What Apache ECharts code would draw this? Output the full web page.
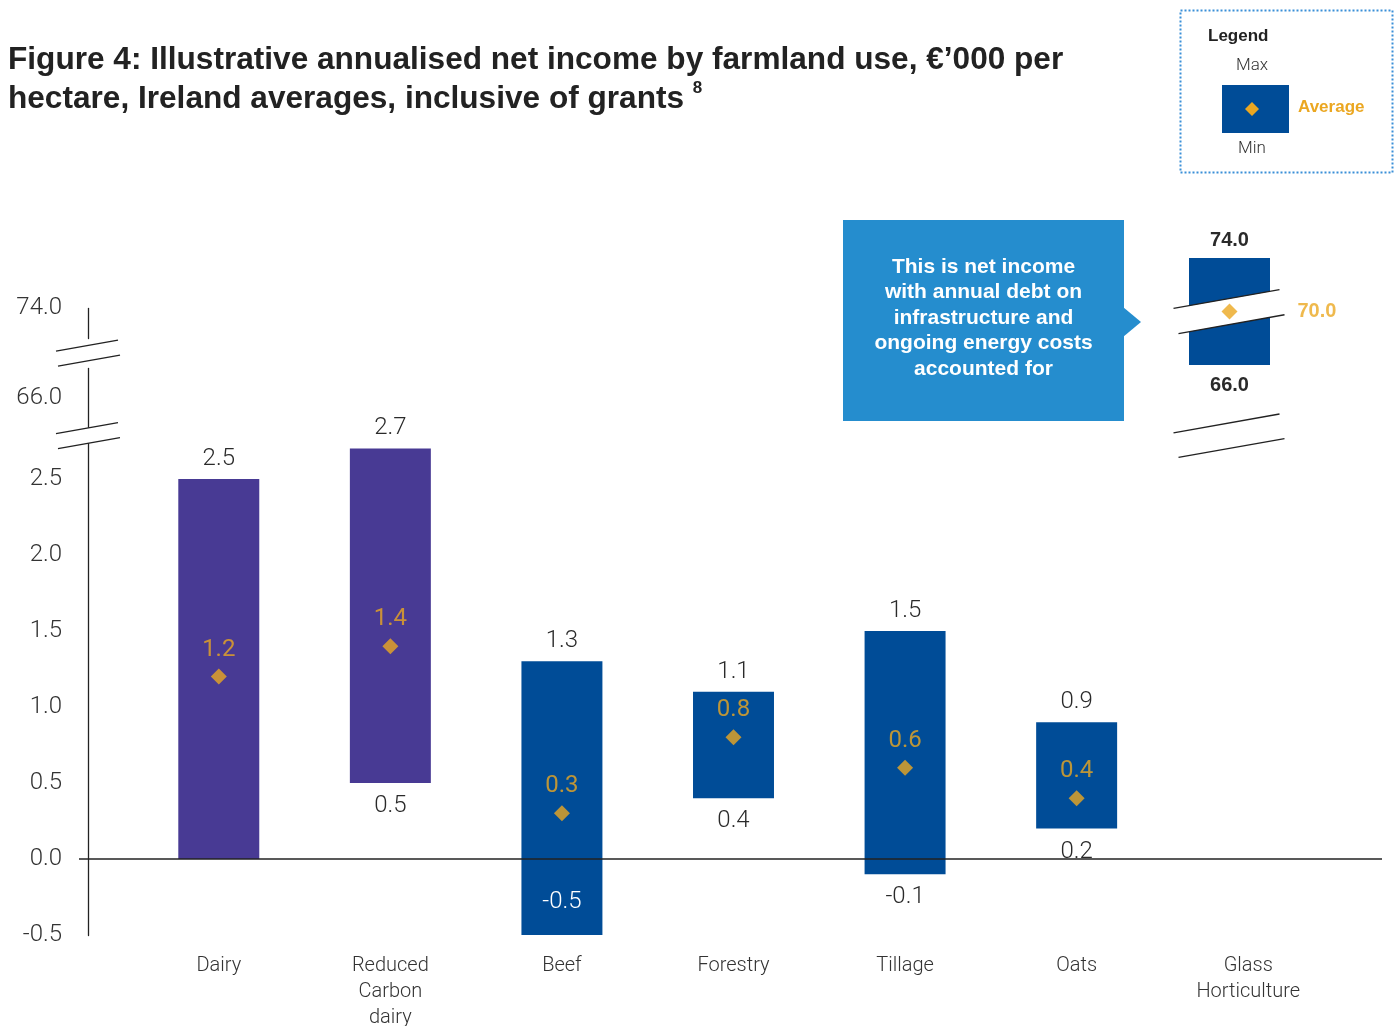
<!DOCTYPE html>
<html>
<head>
<meta charset="utf-8">
<script src="https://cdn.jsdelivr.net/npm/echarts@6/dist/echarts.min.js"></script>
<style>
html,body{margin:0;padding:0;background:#fff;}
#chart{width:1399px;height:1026px;}
</style>
</head>
<body>
<div id="chart"></div>
<script>
// ---------- data ----------
const categories = ['Dairy', 'Reduced Carbon dairy', 'Beef', 'Forestry', 'Tillage', 'Oats', 'Glass Horticulture'];
const minValues = [0.0, 0.5, -0.5, 0.4, -0.1, 0.2, 66.0];
const maxValues = [2.5, 2.7, 1.3, 1.1, 1.5, 0.9, 74.0];
const avgValues = [1.2, 1.4, 0.3, 0.8, 0.6, 0.4, 70.0];
const minLabelShown = [false, true, true, true, true, true, true];
const yTickValues = [-0.5, 0.0, 0.5, 1.0, 1.5, 2.0, 2.5, 66.0, 74.0];
const yBreaks = [{ start: 2.74, end: 65.8 }, { start: 66.2, end: 73.8 }];
const titleLines = ['Figure 4: Illustrative annualised net income by farmland use, €’000 per', 'hectare, Ireland averages, inclusive of grants'];
const titleNote = '8';
const calloutText = 'This is net income\nwith annual debt on\ninfrastructure and\nongoing energy costs\naccounted for';

// ---------- style ----------
const PURPLE = '#483A94';
const BLUE = '#004C97';
const ORANGE = '#EBA721';
const CALLOUT = '#258DCE';
const TXT = '#2a2a2a';
const NUM_FONT = 'Roboto, "Liberation Sans", sans-serif';
const BOLD_FONT = '"Liberation Sans", Arial, sans-serif';
const barColor = i => (i < 2 ? PURPLE : BLUE);
const mainCount = 6;
const gi = 6;
const yMin = yTickValues[0];

const mainRange = [], mainAvg = [];
for (let i = 0; i < mainCount; i++) {
  mainRange.push([i, minValues[i], maxValues[i]]);
  mainAvg.push([i, avgValues[i]]);
}

function makeRender(opts) {
  return function (params, api) {
    const x = api.value(0), lo = api.value(1), hi = api.value(2);
    const di = opts.dataIndex(params.dataIndex);
    const pTop = api.coord([x, hi]);
    const pBot = api.coord([x, lo]);
    const bw = api.size([1, 0])[0] * opts.ratio;
    const children = [{
      type: 'rect',
      shape: { x: pTop[0] - bw / 2, y: pTop[1], width: bw, height: pBot[1] - pTop[1] },
      style: { fill: barColor(di) }
    }];
    children.push({
      type: 'text',
      style: { x: pTop[0], y: pTop[1] - opts.topOff, text: hi.toFixed(1), fill: TXT,
        font: opts.font, align: 'center', verticalAlign: 'middle' }
    });
    if (minLabelShown[di]) {
      const inside = lo <= opts.axisMin;
      children.push({
        type: 'text',
        style: { x: pBot[0], y: inside ? pBot[1] - 33 : pBot[1] + opts.botOff, text: lo.toFixed(1),
          fill: inside ? '#ffffff' : TXT, font: opts.font, align: 'center', verticalAlign: 'middle' }
      });
    }
    return { type: 'group', children: children };
  };
}

const chart = echarts.init(document.getElementById('chart'), null, { renderer: 'canvas' });

const option = {
  animation: false,
  backgroundColor: '#ffffff',
  title: {
    left: 3, top: 36,
    text: titleLines[0] + '\n' + titleLines[1] + ' {sup|' + titleNote + '}',
    textStyle: {
      fontFamily: BOLD_FONT,
      fontWeight: 'bold', fontSize: 31.6, lineHeight: 39, color: '#222',
      rich: { sup: { fontSize: 17, fontWeight: 'bold', verticalAlign: 'top', lineHeight: 30,
        fontFamily: BOLD_FONT, color: '#222' } }
    }
  },
  grid: [
    { left: 133, right: 65, top: 308, bottom: 91, outerBoundsMode: 'none', containLabel: false },
    { left: 1189, width: 81, top: 258, bottom: 661, outerBoundsMode: 'none', containLabel: false }
  ],
  xAxis: [
    { type: 'category', gridIndex: 0, data: categories,
      axisLine: { show: false }, axisTick: { show: false },
      axisLabel: { interval: 0, margin: 18, fontFamily: NUM_FONT, fontWeight: 300, fontSize: 20,
        lineHeight: 26, color: '#333', verticalAlign: 'top',
        formatter: v => v.split(' ').join('\n') } },
    { type: 'category', gridIndex: 1, data: [categories[gi]], show: false }
  ],
  yAxis: [
    { type: 'value', gridIndex: 0, min: yMin, max: yTickValues[yTickValues.length - 1],
      offset: 45,
      breaks: [
        { start: yBreaks[0].start, end: yBreaks[0].end, gap: 0.09 },
        { start: yBreaks[1].start, end: yBreaks[1].end, gap: 0.194 }
      ],
      breakArea: { show: false },
      axisLine: { show: true, onZero: false, lineStyle: { color: '#222', width: 1.3 } },
      axisTick: { show: false },
      splitLine: { show: false },
      axisLabel: { customValues: yTickValues, hideOverlap: false, margin: 26,
        fontFamily: NUM_FONT, fontWeight: 300, fontSize: 24, color: '#333',
        formatter: v => Number(v).toFixed(1) } },
    { type: 'value', gridIndex: 1, min: minValues[gi], max: maxValues[gi], show: false }
  ],
  series: [
    { type: 'custom', xAxisIndex: 0, yAxisIndex: 0, z: 2,
      renderItem: makeRender({ ratio: 0.472, dataIndex: i => i, topOff: 20, botOff: 23,
        axisMin: yMin, font: '300 24px ' + NUM_FONT }),
      encode: { x: 0, y: [1, 2] },
      data: mainRange },
    { type: 'scatter', xAxisIndex: 0, yAxisIndex: 0, z: 5,
      symbol: 'diamond', symbolSize: 16, itemStyle: { color: ORANGE },
      label: { show: true, position: 'top', distance: 7, color: ORANGE,
        fontFamily: NUM_FONT, fontWeight: 'normal', fontSize: 24,
        formatter: p => p.value[1].toFixed(1) },
      data: mainAvg },
    { type: 'custom', xAxisIndex: 1, yAxisIndex: 1, z: 2,
      renderItem: makeRender({ ratio: 1, dataIndex: () => gi, topOff: 18, botOff: 20,
        axisMin: -Infinity, font: 'bold 20px ' + BOLD_FONT }),
      encode: { x: 0, y: [1, 2] },
      data: [[0, minValues[gi], maxValues[gi]]] },
    { type: 'scatter', xAxisIndex: 1, yAxisIndex: 1, z: 10,
      symbol: 'diamond', symbolSize: 16, itemStyle: { color: ORANGE },
      label: { show: true, position: 'right', distance: 60, color: ORANGE,
        fontFamily: BOLD_FONT, fontWeight: 'bold', fontSize: 20,
        formatter: p => p.value[1].toFixed(1) },
      data: [[0, avgValues[gi]]] }
  ]
};
chart.setOption(option);

// ---------- decorations (zero line, break marks, callout, legend box) ----------
const y0 = chart.convertToPixel({ yAxisIndex: 0 }, 0);
const axisX = 88;
const slope = -0.177;
function brk(cx, cy, half, x1, x2, pad) {
  const a = [cx + x1, cy - half + slope * x1], b = [cx + x2, cy - half + slope * x2];
  const c = [cx + x2 + pad, cy + half + slope * (x2 + pad)], d = [cx + x1 + pad, cy + half + slope * (x1 + pad)];
  return [
    { type: 'polygon', z: 8, shape: { points: [a, b, c, d] }, style: { fill: '#fff' } },
    { type: 'line', z: 9, shape: { x1: a[0], y1: a[1], x2: b[0], y2: b[1] }, style: { stroke: '#222', lineWidth: 1.3 } },
    { type: 'line', z: 9, shape: { x1: d[0], y1: d[1], x2: c[0], y2: c[1] }, style: { stroke: '#222', lineWidth: 1.3 } }
  ];
}
const yb1a = chart.convertToPixel({ yAxisIndex: 0 }, yBreaks[0].start);
const yb1b = chart.convertToPixel({ yAxisIndex: 0 }, yBreaks[0].end);
const yb2a = chart.convertToPixel({ yAxisIndex: 0 }, yBreaks[1].start);
const yb2b = chart.convertToPixel({ yAxisIndex: 0 }, yBreaks[1].end);
const mid1 = (yb1a + yb1b) / 2, mid2 = (yb2a + yb2b) / 2;
const gx = chart.convertToPixel({ xAxisIndex: 1 }, categories[gi]);
const gAvgY = chart.convertToPixel({ yAxisIndex: 1 }, avgValues[gi]);

let gfx = [];
gfx.push({ type: 'line', z: 7, shape: { x1: 79, y1: y0, x2: 1382, y2: y0 }, style: { stroke: '#222', lineWidth: 1.3 } });
gfx = gfx.concat(brk(axisX, mid1, 7.7, -32, 30, 2));
gfx = gfx.concat(brk(axisX, mid2, 7.7, -32, 30, 2));
gfx = gfx.concat(brk(gx, gAvgY, 13, -56, 50, 5));
gfx = gfx.concat(brk(gx, mid1, 12.7, -56, 50, 5));

gfx.push({
  type: 'group', z: 6, children: [
    { type: 'rect', shape: { x: 843, y: 220, width: 281, height: 201 }, style: { fill: CALLOUT } },
    { type: 'polygon', shape: { points: [[1123, 307], [1141, 322], [1123, 337]] }, style: { fill: CALLOUT } },
    { type: 'text', style: { x: 983.5, y: 318, text: calloutText, fill: '#fff', align: 'center', verticalAlign: 'middle',
      font: 'bold 21px ' + BOLD_FONT, lineHeight: 25.5 } }
  ]
});
gfx.push({
  type: 'group', z: 6, children: [
    { type: 'rect', shape: { x: 1180.5, y: 10.5, width: 212, height: 162 },
      style: { fill: 'none', stroke: '#3A8FD8', lineWidth: 2, lineDash: [2, 2] } },
    { type: 'text', style: { x: 1208, y: 36, text: 'Legend', fill: '#222', font: 'bold 17px ' + BOLD_FONT, verticalAlign: 'middle' } },
    { type: 'text', style: { x: 1252, y: 66, text: 'Max', fill: '#333', font: '300 17px ' + NUM_FONT, align: 'center', verticalAlign: 'middle' } },
    { type: 'rect', shape: { x: 1222, y: 85, width: 67, height: 48 }, style: { fill: BLUE } },
    { type: 'polygon', shape: { points: [[1252, 102], [1259, 109], [1252, 116], [1245, 109]] }, style: { fill: ORANGE } },
    { type: 'text', style: { x: 1298, y: 107, text: 'Average', fill: ORANGE, font: 'bold 17px ' + BOLD_FONT, verticalAlign: 'middle' } },
    { type: 'text', style: { x: 1252, y: 149, text: 'Min', fill: '#333', font: '300 17px ' + NUM_FONT, align: 'center', verticalAlign: 'middle' } }
  ]
});
chart.setOption({ graphic: { elements: gfx } });
</script>
</body>
</html>
